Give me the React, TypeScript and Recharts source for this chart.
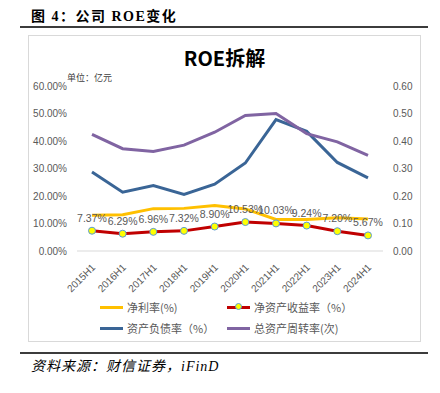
import React from 'react';
import { LineChart, Line, XAxis, YAxis, LabelList } from 'recharts';

// data
const categories = ['2015H1', '2016H1', '2017H1', '2018H1', '2019H1', '2020H1', '2021H1', '2022H1', '2023H1', '2024H1'];
const netMargin = [13.0, 13.2, 15.4, 15.5, 16.5, 15.3, 11.5, 11.5, 12.1, 11.6];
const roe = [7.37, 6.29, 6.96, 7.32, 8.9, 10.53, 10.03, 9.24, 7.2, 5.67];
const debtRatio = [28.7, 21.4, 23.8, 20.6, 24.3, 32.0, 47.8, 43.5, 32.2, 26.6];
const assetTurnover = [0.424, 0.372, 0.362, 0.385, 0.432, 0.493, 0.5, 0.427, 0.397, 0.348];
const leftTicks = [0, 10, 20, 30, 40, 50, 60];
const rightTicks = [0, 0.1, 0.2, 0.3, 0.4, 0.5, 0.6];

const seriesNames = ['净利率(%)', '净资产收益率（%）', '资产负债率（%）', '总资产周转率(次)'];
const colors = ['#FFC000', '#C00000', '#3A6596', '#8064A2'];

const data = categories.map((c, i) => ({
  name: c,
  netMargin: netMargin[i],
  roe: roe[i],
  debtRatio: debtRatio[i],
  assetTurnover: assetTurnover[i],
}));

const FONT = '"Liberation Sans", "Noto Sans CJK SC", sans-serif';
const CJK = '"Noto Sans CJK SC", sans-serif';

const XTick = (props: any) => {
  const { x, y, payload } = props;
  return (
    <text
      x={x + 4}
      y={y + 9}
      textAnchor="end"
      fontSize={10}
      fill="#595959"
      fontFamily={FONT}
      transform={`rotate(-45, ${x + 4}, ${y + 9})`}
    >
      {payload.value}
    </text>
  );
};

const LegendItem = ({ idx, left, top }: { idx: number; left: number; top: number }) => (
  <div style={{ position: 'absolute', left, top, height: 16, display: 'flex', alignItems: 'center' }}>
    <div style={{ position: 'relative', width: 23, height: 3, background: colors[idx] }}>
      {idx === 1 && (
        <div
          style={{
            position: 'absolute',
            left: 8,
            top: -3,
            width: 7,
            height: 7,
            borderRadius: '50%',
            background: '#FFFF00',
            border: '1px solid #5B9BD5',
            boxSizing: 'border-box',
          }}
        />
      )}
    </div>
    <span style={{ marginLeft: 4, fontSize: 11, color: '#595959', fontFamily: CJK, whiteSpace: 'nowrap' }}>
      {seriesNames[idx]}
    </span>
  </div>
);

export default function App() {
  return (
    <div style={{ position: 'absolute', left: 0, top: 0, width: 440, height: 393, background: '#fff', overflow: 'hidden' }}>
      {/* heading */}
      <div
        style={{
          position: 'absolute',
          left: 31,
          top: 5,
          fontSize: 14,
          fontWeight: 'bold',
          letterSpacing: 1.5,
          fontFamily: '"Liberation Serif", "Noto Sans CJK SC", serif',
          color: '#000',
          whiteSpace: 'nowrap',
        }}
      >
        图 4：公司 ROE变化
      </div>
      <div style={{ position: 'absolute', left: 20, top: 26, width: 408, height: 2, background: '#3c3c3c' }} />

      {/* chart frame */}
      <div
        style={{
          position: 'absolute',
          left: 28,
          top: 35,
          width: 393,
          height: 307,
          border: '1px solid #D9D9D9',
          boxSizing: 'border-box',
        }}
      />
      <div
        style={{
          position: 'absolute',
          left: 28,
          top: 44,
          width: 393,
          textAlign: 'center',
          fontSize: 20,
          fontWeight: 'bold',
          fontFamily: CJK,
          color: '#000',
          lineHeight: '28px',
        }}
      >
        ROE拆解
      </div>
      <div style={{ position: 'absolute', left: 67, top: 71, fontSize: 9, fontFamily: CJK, color: '#404040', whiteSpace: 'nowrap' }}>
        单位：亿元
      </div>

      <div style={{ position: 'absolute', left: 28, top: 35 }}>
        <LineChart width={393} height={307} data={data} margin={{ top: 51, right: 0, left: 0, bottom: 51 }}>
          <XAxis
            dataKey="name"
            height={40}
            padding={{ left: 15, right: 15 }}
            axisLine={{ stroke: '#D9D9D9' }}
            tickLine={false}
            tick={<XTick />}
            interval={0}
          />
          <YAxis
            yAxisId="left"
            width={49}
            domain={[0, 60]}
            ticks={leftTicks}
            axisLine={false}
            tickLine={false}
            tickSize={0}
            tickMargin={10}
            tickFormatter={(v: number) => `${v.toFixed(2)}%`}
            tick={{ fontSize: 10, fill: '#595959', fontFamily: FONT }}
          />
          <YAxis
            yAxisId="right"
            orientation="right"
            width={38}
            domain={[0, 0.6]}
            ticks={rightTicks}
            axisLine={false}
            tickLine={false}
            tickSize={0}
            tickMargin={10}
            tickFormatter={(v: number) => v.toFixed(2)}
            tick={{ fontSize: 10, fill: '#595959', fontFamily: FONT, textAnchor: 'start' }}
          />
          <Line
            yAxisId="left"
            dataKey="netMargin"
            stroke={colors[0]}
            strokeWidth={3}
            dot={false}
            type="linear"
            isAnimationActive={false}
          />
          <Line
            yAxisId="left"
            dataKey="debtRatio"
            stroke={colors[2]}
            strokeWidth={3}
            dot={false}
            type="linear"
            isAnimationActive={false}
          />
          <Line
            yAxisId="right"
            dataKey="assetTurnover"
            stroke={colors[3]}
            strokeWidth={3}
            dot={false}
            type="linear"
            isAnimationActive={false}
          />
          <Line
            yAxisId="left"
            dataKey="roe"
            stroke={colors[1]}
            strokeWidth={3}
            type="linear"
            dot={{ r: 3.5, fill: '#FFFF00', stroke: '#5B9BD5', strokeWidth: 1 }}
            isAnimationActive={false}
          >
            <LabelList
              dataKey="roe"
              position="top"
              offset={9}
              formatter={(v: any) => `${Number(v).toFixed(2)}%`}
              style={{ fontSize: 10.5, fill: '#595959', fontFamily: FONT }}
            />
          </Line>
        </LineChart>
      </div>

      {/* legend */}
      <LegendItem idx={0} left={100} top={299} />
      <LegendItem idx={1} left={227} top={299} />
      <LegendItem idx={2} left={100} top={320} />
      <LegendItem idx={3} left={227} top={320} />

      {/* footer */}
      <div style={{ position: 'absolute', left: 20, top: 352, width: 408, height: 2, background: '#3c3c3c' }} />
      <div
        style={{
          position: 'absolute',
          left: 31,
          top: 355,
          fontSize: 14,
          fontStyle: 'italic',
          letterSpacing: 1,
          fontFamily: '"Liberation Serif", "Noto Sans CJK SC", serif',
          color: '#000',
          whiteSpace: 'nowrap',
        }}
      >
        资料来源：财信证券，iFinD
      </div>
    </div>
  );
}
